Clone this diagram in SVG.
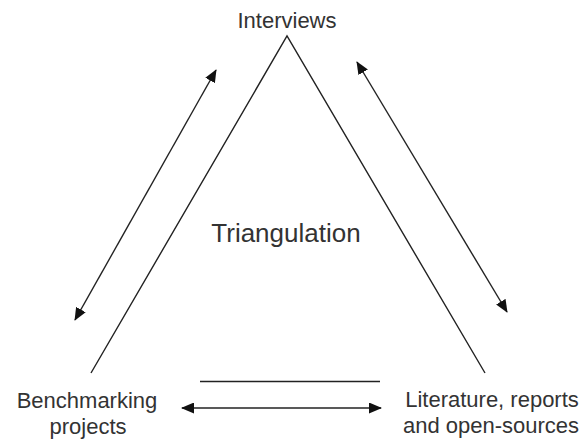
<svg xmlns="http://www.w3.org/2000/svg" width="587" height="441" viewBox="0 0 587 441">
  <style>
    .label { font-family: "Liberation Sans", Arial, sans-serif; font-size: 22px; fill: #333; text-anchor: middle; }
    .title { font-size: 26px; }
    .edge { stroke: #222; stroke-width: 1.4; fill: none; }
  </style>
  <defs>
    <marker id="head" viewBox="0 0 13 11" refX="12" refY="5.5" markerWidth="13" markerHeight="11" markerUnits="userSpaceOnUse" orient="auto-start-reverse">
      <path d="M0,0 L13,5.5 L0,11 z" fill="#111"/>
    </marker>
  </defs>
  <rect width="587" height="441" fill="#fff"/>

  <g id="connectors">
    <!-- triangle sides and base -->
    <path class="edge" d="M91,373 L287,36 L485,373"/>
    <line class="edge" x1="200" y1="381.5" x2="380" y2="381.5"/>
    <!-- two-way arrows -->
    <line class="edge" x1="216" y1="70" x2="75" y2="320" marker-start="url(#head)" marker-end="url(#head)"/>
    <line class="edge" x1="357" y1="62" x2="507" y2="312" marker-start="url(#head)" marker-end="url(#head)"/>
    <line class="edge" x1="182" y1="408" x2="381" y2="408" marker-start="url(#head)" marker-end="url(#head)"/>
  </g>

  <g id="interviews">
    <text class="label" x="287" y="28">Interviews</text>
  </g>
  <g id="triangulation">
    <text class="label title" x="286" y="242">Triangulation</text>
  </g>
  <g id="benchmarking">
    <text class="label" x="87" y="408">Benchmarking</text>
    <text class="label" x="88" y="434">projects</text>
  </g>
  <g id="literature">
    <text class="label" x="492" y="407">Literature, reports</text>
    <text class="label" x="491" y="433">and open-sources</text>
  </g>
</svg>
